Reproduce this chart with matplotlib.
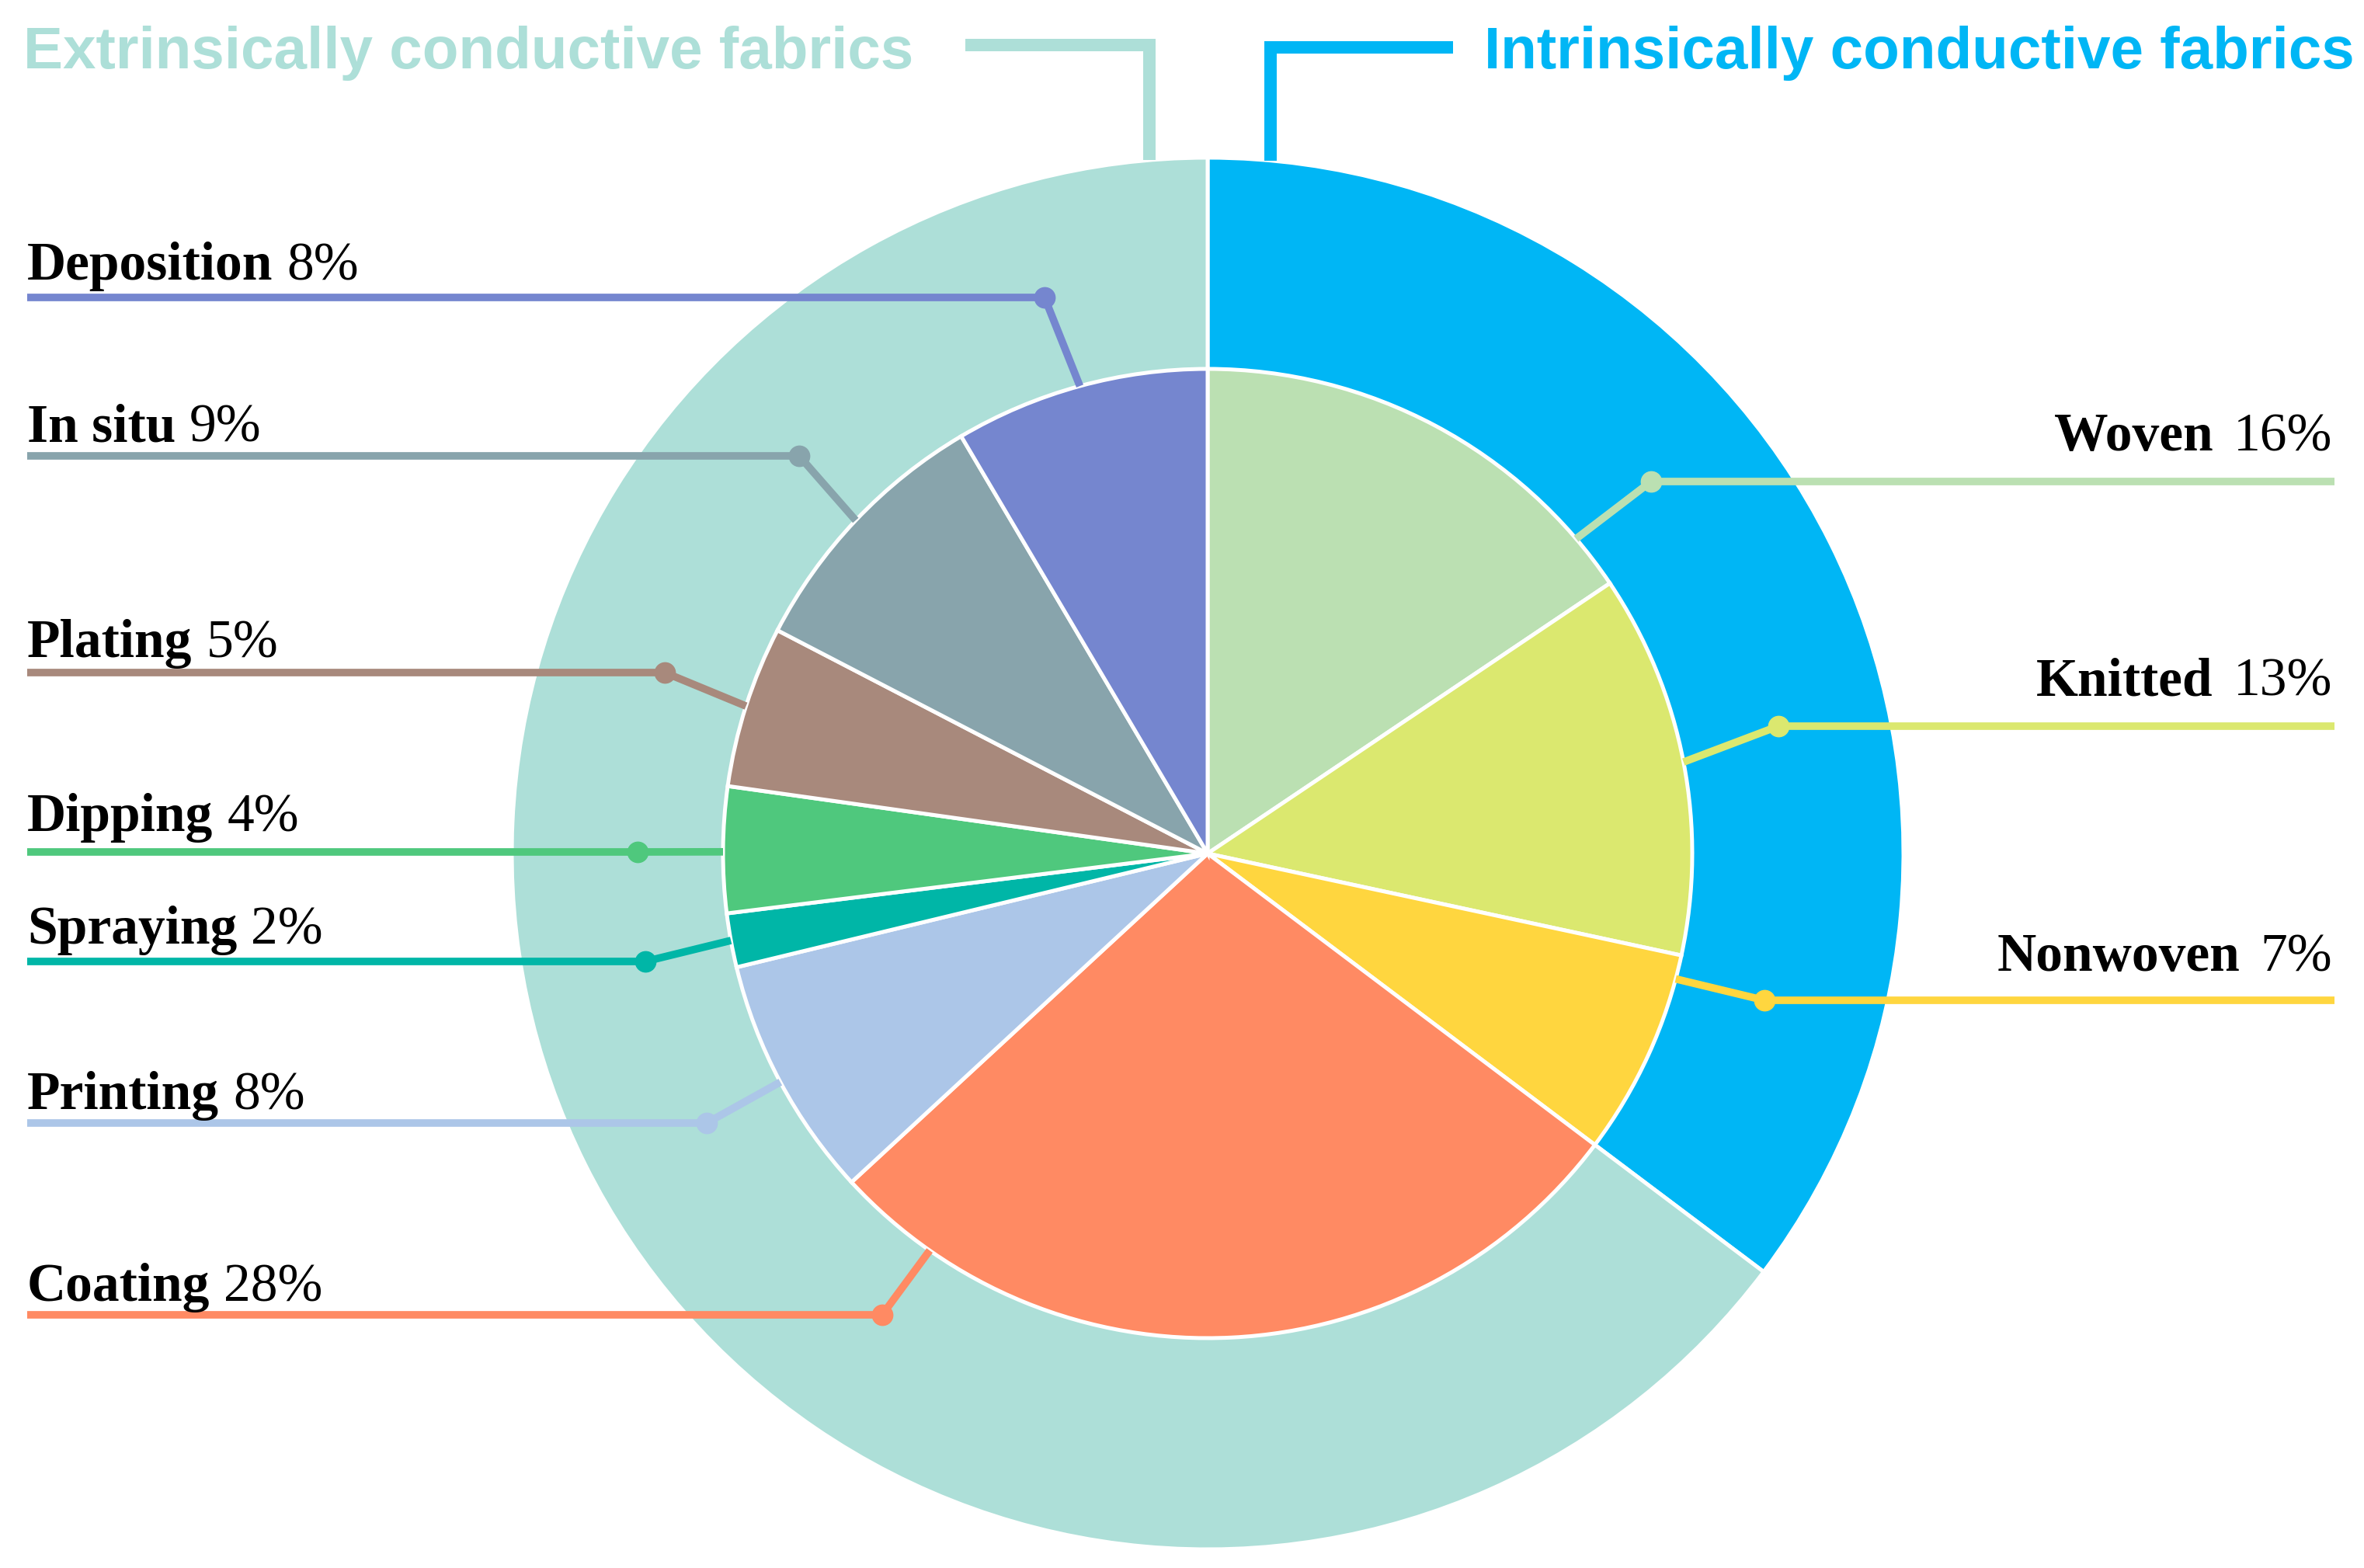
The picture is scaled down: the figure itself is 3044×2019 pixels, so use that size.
import numpy as np
import matplotlib
matplotlib.use('Agg')
import matplotlib.pyplot as plt

W, H = 3044, 2019

# ---------------- data ----------------
groups = ['Intrinsically conductive fabrics', 'Extrinsically conductive fabrics']
group_colors = ['#00B6F5', '#ADDFD8']

methods = ['Woven', 'Knitted', 'Nonwoven', 'Coating', 'Printing',
           'Spraying', 'Dipping', 'Plating', 'In situ', 'Deposition']
shares = [15.6, 12.8, 6.9, 27.9, 8.1, 1.8, 4.2, 5.4, 8.9, 8.5]
pct_labels = ['16%', '13%', '7%', '28%', '8%', '2%', '4%', '5%', '9%', '8%']
method_group = [0, 0, 0, 1, 1, 1, 1, 1, 1, 1]
method_colors = ['#BBE0B2', '#DBE86F', '#FFD63F', '#FF8A63', '#ACC6E8',
                 '#00B6A7', '#4FC87D', '#A8897C', '#88A4AC', '#7586CF']

group_totals = [sum(s for s, g in zip(shares, method_group) if g == k) for k in range(2)]

# ---------------- layout (pixel units, y from top) ----------------
CX, CY_PX = 1555, 1099
R_OUT, R_IN = 896, 624
# side, leader line y, text baseline y, dot x, anchor angle (None = slice middle)
label_layout = {
    'Woven':      ('R', 620, 580, 2126, 40.5),
    'Knitted':    ('R', 935, 895, 2290, None),
    'Nonwoven':   ('R', 1288, 1250, 2272, -15.0),
    'Coating':    ('L', 1693, 1675, 1136, -125.0),
    'Printing':   ('L', 1446, 1428, 910, None),
    'Spraying':   ('L', 1238, 1215, 831, None),
    'Dipping':    ('L', 1097, 1070, 821, 179.8),
    'Plating':    ('L', 866, 846, 856, None),
    'In situ':    ('L', 587, 568, 1029, None),
    'Deposition': ('L', 383, 360, 1345, None),
}
LEFT_X, RIGHT_X = 35, 3006
RIGHT_TEXT_X = 3003


def Y(py):
    return H - py


CY = Y(CY_PX)

fig = plt.figure(figsize=(W / 100, H / 100), dpi=100)
ax = fig.add_axes([0, 0, 1, 1])

# outer ring (full disc beneath the inner pie)
ax.pie(group_totals, radius=R_OUT, center=(CX, CY), startangle=90,
       counterclock=False, colors=group_colors,
       wedgeprops=dict(edgecolor='white', linewidth=3.6), frame=True)
# inner pie
wedges, _ = ax.pie(shares, radius=R_IN, center=(CX, CY), startangle=90,
                   counterclock=False, colors=method_colors,
                   wedgeprops=dict(edgecolor='white', linewidth=3.6), frame=True)

ax.set_xlim(0, W)
ax.set_ylim(0, H)
ax.set_aspect('auto')
ax.axis('off')

fig.canvas.draw()
renderer = fig.canvas.get_renderer()
inv = ax.transData.inverted()

serif = ['Liberation Serif', 'DejaVu Serif']
FS = 50

for name, pct, w, col in zip(methods, pct_labels, wedges, method_colors):
    side, ly, ty, dx, ang = label_layout[name]
    if ang is None:
        ang = 0.5 * (w.theta1 + w.theta2)
    ax_pt = CX + R_IN * np.cos(np.radians(ang))
    ay_pt = CY + R_IN * np.sin(np.radians(ang))
    # leader line
    if side == 'L':
        xs = [LEFT_X, dx, ax_pt]
    else:
        xs = [RIGHT_X, dx, ax_pt]
    ys = [Y(ly), Y(ly), ay_pt]
    ax.plot(xs, ys, color=col, lw=7.0, solid_capstyle='butt',
            solid_joinstyle='round', zorder=5)
    ax.plot([dx], [Y(ly)], 'o', color=col, ms=19, zorder=6)
    # label text
    if side == 'L':
        t1 = ax.text(LEFT_X, Y(ty), name, fontsize=FS, fontweight='bold',
                     family=serif, ha='left', va='baseline', zorder=7)
        bb = t1.get_window_extent(renderer)
        x_end = inv.transform((bb.x1, bb.y0))[0]
        ax.text(x_end + 18, Y(ty), pct, fontsize=FS, family=serif,
                ha='left', va='baseline', zorder=7)
    else:
        t2 = ax.text(RIGHT_TEXT_X, Y(ty), pct, fontsize=FS, family=serif,
                     ha='right', va='baseline', zorder=7)
        bb = t2.get_window_extent(renderer)
        x_start = inv.transform((bb.x0, bb.y0))[0]
        ax.text(x_start - 26, Y(ty), name, fontsize=FS, fontweight='bold',
                family=serif, ha='right', va='baseline', zorder=7)

# group titles with bracket connectors
sans = ['Liberation Sans', 'DejaVu Sans']
ax.text(30, Y(88), groups[1], fontsize=55, fontweight='bold', family=sans,
        color=group_colors[1], ha='left', va='baseline')
ax.text(1911, Y(88), groups[0], fontsize=55, fontweight='bold', family=sans,
        color=group_colors[0], ha='left', va='baseline')


def ring_top(x):
    return CY + np.sqrt(R_OUT ** 2 - (x - CX) ** 2)


ax.plot([1243, 1480, 1480], [Y(58), Y(58), ring_top(1480)],
        color=group_colors[1], lw=11.5, solid_joinstyle='miter',
        solid_capstyle='butt', zorder=1)
ax.plot([1871, 1636, 1636], [Y(61), Y(61), ring_top(1636)],
        color=group_colors[0], lw=11.5, solid_joinstyle='miter',
        solid_capstyle='butt', zorder=1)

fig.savefig('out.png', dpi=100, facecolor='white')
